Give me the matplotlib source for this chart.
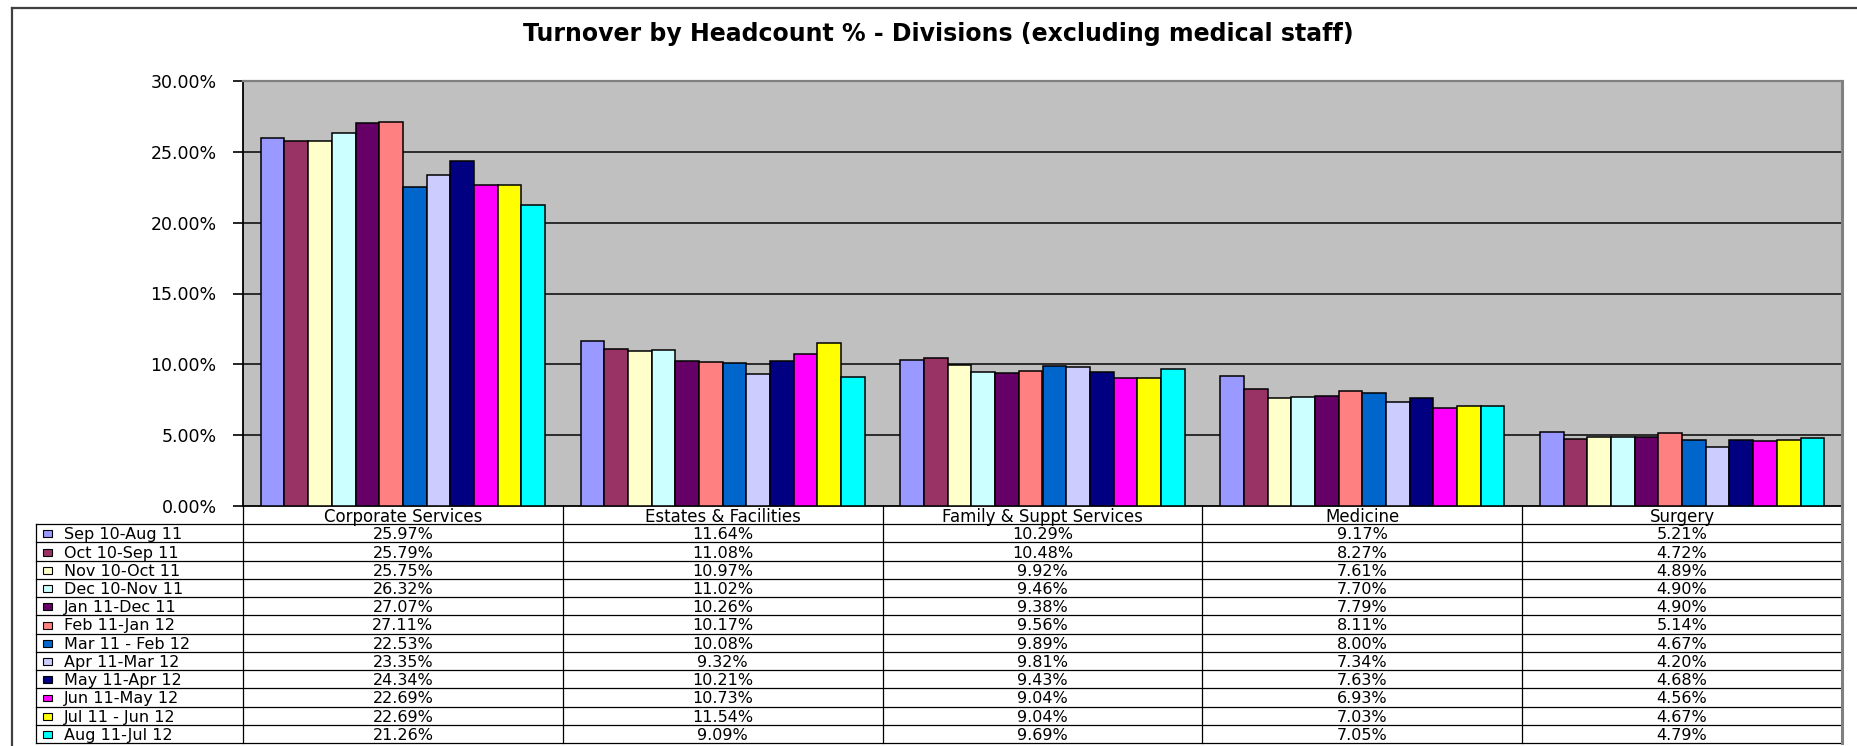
import matplotlib
matplotlib.use("Agg")
import matplotlib.pyplot as plt
from matplotlib.patches import Rectangle
from matplotlib.lines import Line2D
import numpy as np

plt.rcParams['font.family'] = ['DejaVu Sans']

categories = ["Corporate Services", "Estates & Facilities", "Family & Suppt Services",
              "Medicine", "Surgery"]
periods = ["Sep 10-Aug 11", "Oct 10-Sep 11", "Nov 10-Oct 11", "Dec 10-Nov 11",
           "Jan 11-Dec 11", "Feb 11-Jan 12", "Mar 11 - Feb 12", "Apr 11-Mar 12",
           "May 11-Apr 12", "Jun 11-May 12", "Jul 11 - Jun 12", "Aug 11-Jul 12"]
colors = ["#9999FF", "#993366", "#FFFFCC", "#CCFFFF", "#660066", "#FF8080",
          "#0066CC", "#CCCCFF", "#000080", "#FF00FF", "#FFFF00", "#00FFFF"]

corporate = [25.97, 25.79, 25.75, 26.32, 27.07, 27.11, 22.53, 23.35, 24.34, 22.69, 22.69, 21.26]
estates = [11.64, 11.08, 10.97, 11.02, 10.26, 10.17, 10.08, 9.32, 10.21, 10.73, 11.54, 9.09]
family = [10.29, 10.48, 9.92, 9.46, 9.38, 9.56, 9.89, 9.81, 9.43, 9.04, 9.04, 9.69]
medicine = [9.17, 8.27, 7.61, 7.70, 7.79, 8.11, 8.00, 7.34, 7.63, 6.93, 7.03, 7.05]
surgery = [5.21, 4.72, 4.89, 4.90, 4.90, 5.14, 4.67, 4.20, 4.68, 4.56, 4.67, 4.79]

yticks = [0, 5, 10, 15, 20, 25, 30]

# series values per period: rows = periods, cols = divisions
values = np.array([corporate, estates, family, medicine, surgery]).T

W, H = 1858, 746
fig = plt.figure(figsize=(W / 100, H / 100), dpi=100)
fig.patch.set_facecolor("white")


def fx(px):
    return px / W


def fy(py):
    return 1 - py / H


# chart-area frame (left and top edges)
fig.add_artist(Line2D([fx(12), fx(12)], [fy(8), fy(H + 5)], color="#404040", lw=1.6,
                      transform=fig.transFigure))
fig.add_artist(Line2D([fx(12), fx(W + 5)], [fy(8), fy(8)], color="#404040", lw=1.6,
                      transform=fig.transFigure))

# ---- bar chart ----
pl, pr, pt, pb = 243, 1842, 81, 506
ax = fig.add_axes([fx(pl), fy(pb), fx(pr - pl), (pb - pt) / H])
ax.set_facecolor("#C0C0C0")
n_series = len(periods)
bw = 1 / (n_series + 1.5)
x = np.arange(len(categories))
for i in range(n_series):
    ax.bar(x + (i - (n_series - 1) / 2) * bw, values[i], width=bw, color=colors[i],
           edgecolor="black", linewidth=1.1, zorder=3)

ax.set_xlim(-0.5, len(categories) - 0.5)
ax.set_ylim(0, 30)
ax.set_yticks(yticks)
ax.set_yticklabels([f"{t:.2f}%" for t in yticks], fontsize=12.5)
ax.set_xticks([])
ax.tick_params(axis="y", direction="out", length=7, width=1.2, pad=12, color="black")
for t in yticks[1:-1]:
    ax.axhline(t, color="#202020", lw=1.3, zorder=1)
ax.spines["left"].set_color("black")
ax.spines["left"].set_linewidth(1.3)
ax.spines["bottom"].set_color("black")
ax.spines["bottom"].set_linewidth(1.3)
ax.spines["top"].set_color("#808080")
ax.spines["top"].set_linewidth(1.6)
ax.spines["right"].set_color("#808080")
ax.spines["right"].set_linewidth(2.2)

fig.text(fx(938), fy(34), "Turnover by Headcount % - Divisions (excluding medical staff)",
         ha="center", va="center", fontsize=17, fontweight="bold")

# ---- data table ----
tl, tt, tb = 36, 506, 743
unit = (pr - pl) / len(categories)
left_x = -0.5 - (pl - tl) / unit
tax = fig.add_axes([fx(tl), fy(tb), fx(pr - tl), (tb - tt) / H])
tax.set_xlim(left_x, len(categories) - 0.5)
nrows = n_series + 1
tax.set_ylim(nrows, 0)
tax.axis("off")

lc = "black"
lw = 0.9
for r in range(1, nrows + 1):
    tax.plot([left_x, len(categories) - 0.5], [r, r], color=lc, lw=lw, clip_on=False)
tax.plot([left_x, left_x], [1, nrows], color=lc, lw=lw, clip_on=False)
for c in range(len(categories)):
    tax.plot([c - 0.5, c - 0.5], [0, nrows], color=lc, lw=lw, clip_on=False)
tax.plot([len(categories) - 0.5] * 2, [0, nrows], color="#808080", lw=2.2, clip_on=False)

for c, name in enumerate(categories):
    tax.text(c, 0.58, name, ha="center", va="center", fontsize=12)
    for i in range(n_series):
        tax.text(c, i + 1.58, f"{values[i][c]:.2f}%", ha="center", va="center", fontsize=11.5)

sw_w = 9 / unit
for i, lab in enumerate(periods):
    tax.add_patch(Rectangle((left_x + 7 / unit, i + 1.34), sw_w, 0.38,
                            facecolor=colors[i], edgecolor="black", lw=0.8, clip_on=False))
    tax.text(left_x + 28 / unit, i + 1.58, lab, ha="left", va="center", fontsize=11.5)

fig.savefig("out.png", dpi=100)
